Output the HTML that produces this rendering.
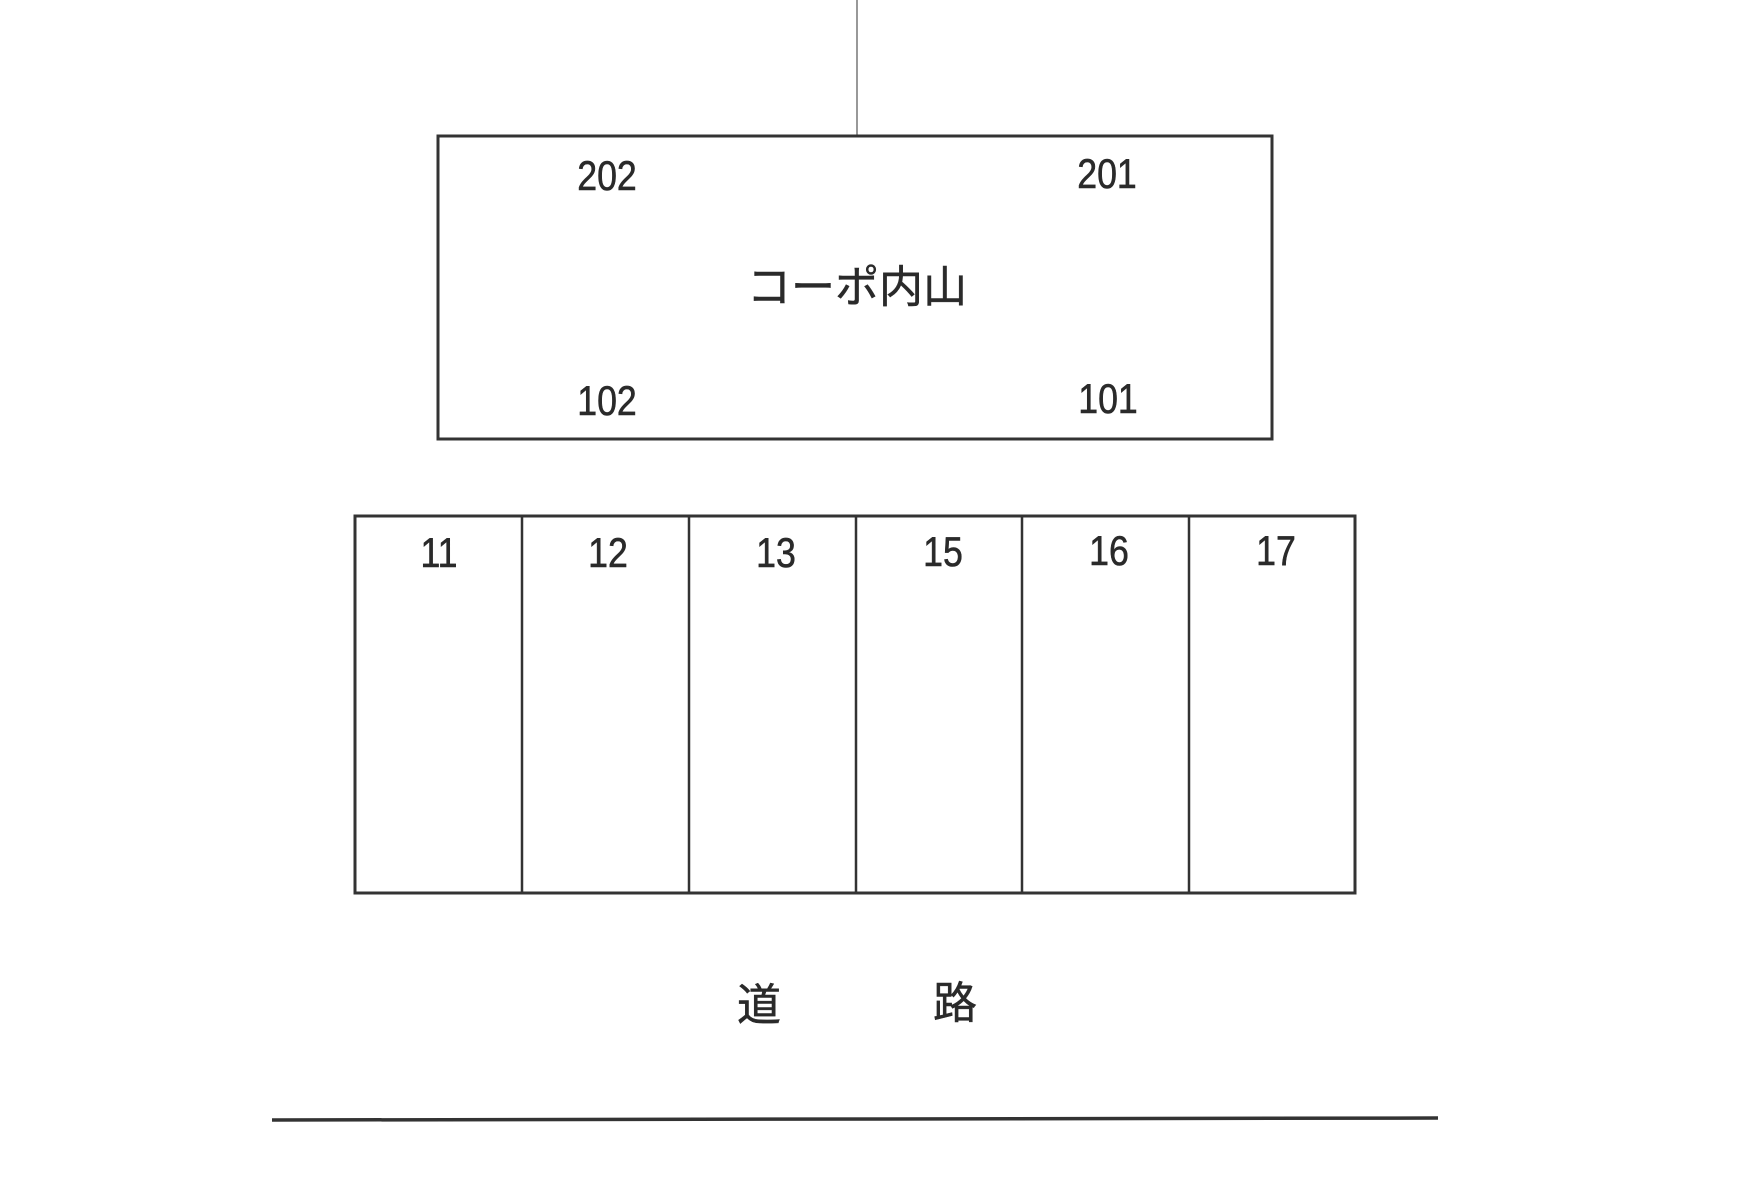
<!DOCTYPE html>
<html><head><meta charset="utf-8"><style>
html,body{margin:0;padding:0;background:#fff;}
body{width:1739px;height:1193px;position:relative;overflow:hidden;font-family:"Liberation Sans","Noto Sans CJK JP",sans-serif;color:#2a2a2a;}
.t{position:absolute;transform:translate(-50%,-50%) scaleX(0.85);white-space:nowrap;line-height:1;}
.n{font-size:42px;-webkit-text-stroke:0.6px #2a2a2a;}
.j{font-size:42px;transform:translate(-50%,-50%);-webkit-text-stroke:0.5px #2a2a2a;}
</style></head><body>
<svg width="1739" height="1193" style="position:absolute;left:0;top:0">
<line x1="857" y1="0" x2="857" y2="136" stroke="#555" stroke-width="1.2"/>
<rect x="438" y="136" width="834" height="303" fill="none" stroke="#333" stroke-width="3"/>
<rect x="355" y="516" width="1000" height="377" fill="none" stroke="#333" stroke-width="3"/>
<g stroke="#333" stroke-width="2.5">
<line x1="522" y1="516" x2="522" y2="893"/>
<line x1="689" y1="516" x2="689" y2="893"/>
<line x1="856" y1="516" x2="856" y2="893"/>
<line x1="1022" y1="516" x2="1022" y2="893"/>
<line x1="1189" y1="516" x2="1189" y2="893"/>
</g>
<line x1="272" y1="1120" x2="1438" y2="1118" stroke="#333" stroke-width="3.5"/>
</svg>
<div class="t n" style="left:607px;top:176px">202</div>
<div class="t n" style="left:1107px;top:174px">201</div>
<div class="t n" style="left:607px;top:401px">102</div>
<div class="t n" style="left:1108px;top:399px">101</div>
<div class="t j" style="left:857px;top:288px;font-size:44px">コーポ内山</div>
<div class="t n" style="left:439px;top:553px">11</div>
<div class="t n" style="left:608px;top:553px">12</div>
<div class="t n" style="left:776px;top:553px">13</div>
<div class="t n" style="left:943px;top:552px">15</div>
<div class="t n" style="left:1109px;top:551px">16</div>
<div class="t n" style="left:1276px;top:551px">17</div>
<div class="t j" style="left:759px;top:1006px;font-size:44px">道</div>
<div class="t j" style="left:955px;top:1004px;font-size:44px">路</div>
</body></html>
